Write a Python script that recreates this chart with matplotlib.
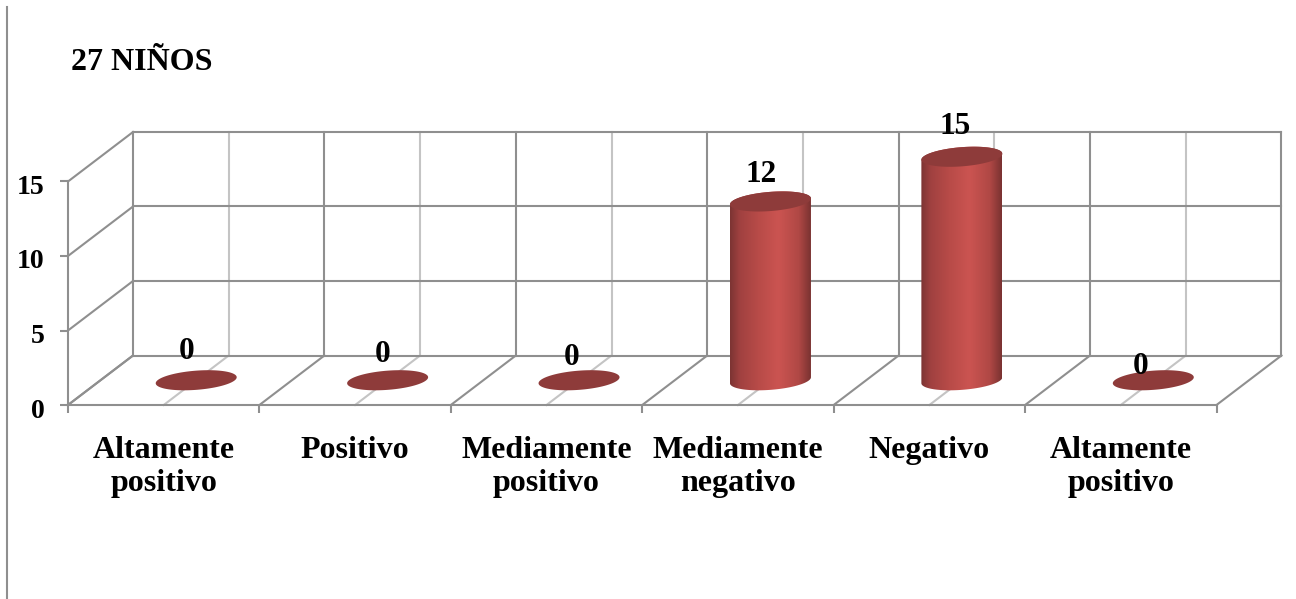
import numpy as np
import matplotlib
matplotlib.use('Agg')
import matplotlib.pyplot as plt
from matplotlib.colors import LinearSegmentedColormap
from matplotlib.lines import Line2D
from matplotlib.patches import Polygon
from matplotlib.transforms import ScaledTranslation

categories = ['Altamente\npositivo', 'Positivo', 'Mediamente\npositivo',
              'Mediamente\nnegativo', 'Negativo', 'Altamente\npositivo']
values = [0, 0, 0, 12, 15, 0]
y_ticks = [0, 5, 10, 15]
title = '27 NIÑOS'

W, H = 1296, 599
GREY = '#8f8f8f'
LIGHT = '#c4c4c4'
DISC = '#8e3b3a'

# front plane of the box in pixels
LEFT, RIGHT, BOTTOM, TOP = 68, 1216.5, 405, 181.5
PX_X = (RIGHT - LEFT) / 6.0
PX_Y = (BOTTOM - TOP) / 15.0

# oblique depth of the box, in data units
DX = 65 / PX_X
DY = 49.5 / PX_Y

# cylinder cross section, in data units
RX = 40.5 / PX_X
RY = 9.6 / PX_Y
SHEAR = 3.0 / PX_Y

# where each value label sits relative to its disc, in pixels
label_nudge = [(-10, 29), (-5, 26), (-7, 23), (-9, 27), (-7, 30), (-13, 14)]

plt.rcParams['font.family'] = ['Liberation Serif', 'DejaVu Serif']
plt.rcParams['font.weight'] = 'bold'
plt.rcParams['font.size'] = 23

fig = plt.figure(figsize=(W / 100, H / 100), dpi=100)
ax = fig.add_axes([LEFT / W, 1 - BOTTOM / H, (RIGHT - LEFT) / W, (BOTTOM - TOP) / H])
ax.set_xlim(0, 6)
ax.set_ylim(0, 15)
ax.patch.set_visible(False)

for s in ['top', 'right']:
    ax.spines[s].set_visible(False)
for s in ['left', 'bottom']:
    ax.spines[s].set_color(GREY)
    ax.spines[s].set_linewidth(1.5)

ax.set_xticks(range(7))
ax.set_xticklabels([])
ax.set_xticks(np.arange(6) + 0.5, categories, minor=True, ha='center', linespacing=1.2)
ax.tick_params(axis='x', which='major', length=6, width=1.5, color=GREY)
ax.tick_params(axis='x', which='minor', length=0, pad=22)
ax.set_yticks(y_ticks)
ax.tick_params(axis='y', length=6, width=1.5, color=GREY, pad=11, labelsize=20)

# the axis numbers sit a little below their gridlines
for lab in ax.get_yticklabels():
    lab.set_transform(lab.get_transform() + ScaledTranslation(0, -3 / 100, fig.dpi_scale_trans))


def wall_line(x0, y0, x1, y1, color=GREY, lw=1.5, z=1):
    ax.plot([x0, x1], [y0, y1], color=color, lw=lw, zorder=z,
            clip_on=False, solid_capstyle='projecting')


# light centre lines on the back wall and floor
for i in range(6):
    c = i + 0.5
    wall_line(c + DX, 0 + DY, c + DX, 15 + DY, LIGHT, 1.5, 1)
    wall_line(c, 0, c + DX, DY, LIGHT, 1.5, 1)

# back wall and floor
for i in range(7):
    wall_line(i + DX, DY, i + DX, 15 + DY, z=1.2)
    wall_line(i, 0, i + DX, DY, z=1.2)
for v in y_ticks:
    wall_line(DX, v + DY, 6 + DX, v + DY, z=1.2)
    wall_line(0, v, DX, v + DY, z=1.2)


def ring(cx, v, t):
    # points of the tilted ellipse around the cylinder axis at height v
    xs = cx + DX / 2 + RX * np.cos(t)
    ys = v + DY / 2 + RY * np.sin(t) + SHEAR * np.cos(t)
    return np.column_stack([xs, ys])


shade = LinearSegmentedColormap.from_list(
    'shade', [(0, '#7c3433'), (0.12, '#a04140'), (0.35, '#b84b48'), (0.6, '#cb5451'),
              (0.85, '#b04845'), (1, '#7a3231')])
all_t = np.linspace(0, 2 * np.pi, 120)

for i, v in enumerate(values):
    cx = i + 0.5
    if v > 0:
        lower = ring(cx, 0, np.linspace(np.pi, 2 * np.pi, 60))
        upper = ring(cx, v, np.linspace(0, np.pi, 60))
        outline = Polygon(np.vstack([lower, upper]), closed=True, transform=ax.transData)
        im = ax.imshow(np.linspace(0, 1, 256).reshape(1, -1), cmap=shade, aspect='auto',
                       extent=(cx + DX / 2 - RX, cx + DX / 2 + RX, 0, v + DY), zorder=2)
        im.set_clip_box(fig.bbox)
        im.set_clip_path(outline)
    ax.add_patch(Polygon(ring(cx, v, all_t), closed=True, facecolor=DISC, edgecolor='none',
                         zorder=3, clip_on=False))
    centre = (cx + DX / 2, v + DY / 2)
    ax.annotate(str(v), centre, xytext=label_nudge[i], textcoords='offset pixels',
                ha='center', va='center', zorder=4, annotation_clip=False, fontsize=22.5)

ax.set_xlim(0, 6)
ax.set_ylim(0, 15)

fig.text(71 / W, 1 - 62 / H, title, ha='left', va='center')
# rule down the left edge of the page
fig.add_artist(Line2D([7 / W, 7 / W], [1 - 7 / H, 0], color=GREY, lw=1.5))

fig.savefig('out.png', dpi=100)
